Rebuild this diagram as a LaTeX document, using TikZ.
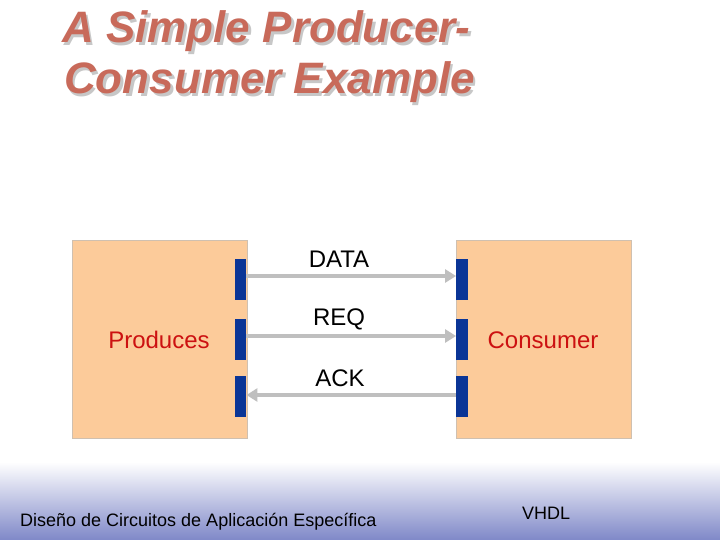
\documentclass[tikz,border=0pt]{standalone}
\usepackage{fontspec}
\setmainfont{Liberation Sans}
\usetikzlibrary{arrows.meta,shadings}
\definecolor{boxfill}{HTML}{FCCB9A}
\definecolor{boxline}{HTML}{CFC0B0}
\definecolor{barblue}{HTML}{0A3596}
\definecolor{arrgray}{HTML}{BFBFBF}
\definecolor{titlecol}{HTML}{C86A5A}
\definecolor{txtred}{HTML}{CC1111}
\definecolor{footblue}{HTML}{7F88C8}
\newcommand\shadowedtext[1]{\makebox[0pt][l]{\hspace{2.5pt}\raisebox{-2.5pt}{\color{black!22}#1}}#1}
\tikzset{
  x=1pt, y=-1pt,
  block/.style={draw=boxline, fill=boxfill, line width=0.8pt, minimum width=175pt, minimum height=198pt, inner sep=0pt},
  port/.style={fill=barblue, draw=none, minimum width=11.5pt, minimum height=41pt, inner sep=0pt},
  sig/.style={draw=arrgray, line width=4pt, -{Triangle[length=11pt,width=13pt]}},
  lbl/.style={font=\fontsize{24}{28}\selectfont, text=black, inner sep=0pt},
  blk/.style={font=\fontsize{24}{28}\selectfont, text=txtred, inner sep=0pt},
  ttl/.style={font=\fontsize{44}{50}\selectfont\bfseries\itshape, text=titlecol, anchor=base west, inner sep=0pt},
  foot/.style={font=\fontsize{18}{21}\selectfont, text=black, anchor=base west, inner sep=0pt}
}
\begin{document}
\begin{tikzpicture}
\useasboundingbox (0,0) rectangle (720,540);
\fill[white] (0,0) rectangle (720,540);
\shade[top color=white, bottom color=footblue] (0,462) rectangle (720,540);
% title
\node[ttl] (t1) at (62,43) {\shadowedtext{A Simple Producer-}};
\node[ttl] (t2) at (64,94) {\shadowedtext{Consumer Example}};
% blocks
\node[block] (prod) at (159.5,339) {};
\node[block] (cons) at (543.5,339) {};
\node[blk] (prodt) at (159,340) {Produces};
\node[blk] (const) at (543,340) {Consumer};
% ports
\node[port] (pl1) at (240.5,279.5) {};
\node[port] (pl2) at (240.5,339.5) {};
\node[port] (pl3) at (240.5,396.5) {};
\node[port] (pr1) at (462,279.5) {};
\node[port] (pr2) at (462,339.5) {};
\node[port] (pr3) at (462,396.5) {};
% signals
\draw[sig] ([yshift=3.5pt]pl1.east) -- ([yshift=3.5pt]pr1.west);
\draw[sig] ([yshift=3.5pt]pl2.east) -- ([yshift=3.5pt]pr2.west);
\draw[sig] ([yshift=1.5pt]pr3.west) -- ([yshift=1.5pt]pl3.east);
\node[lbl] (ldata) at (339,259) {DATA};
\node[lbl] (lreq) at (339,319) {REQ};
\node[lbl] (lack) at (340,378) {ACK};
% footer
\node[foot] (f1) at (20,526) {Diseño de Circuitos de Aplicación Específica};
\node[foot] (f2) at (522,519) {VHDL};
\end{tikzpicture}
\end{document}
